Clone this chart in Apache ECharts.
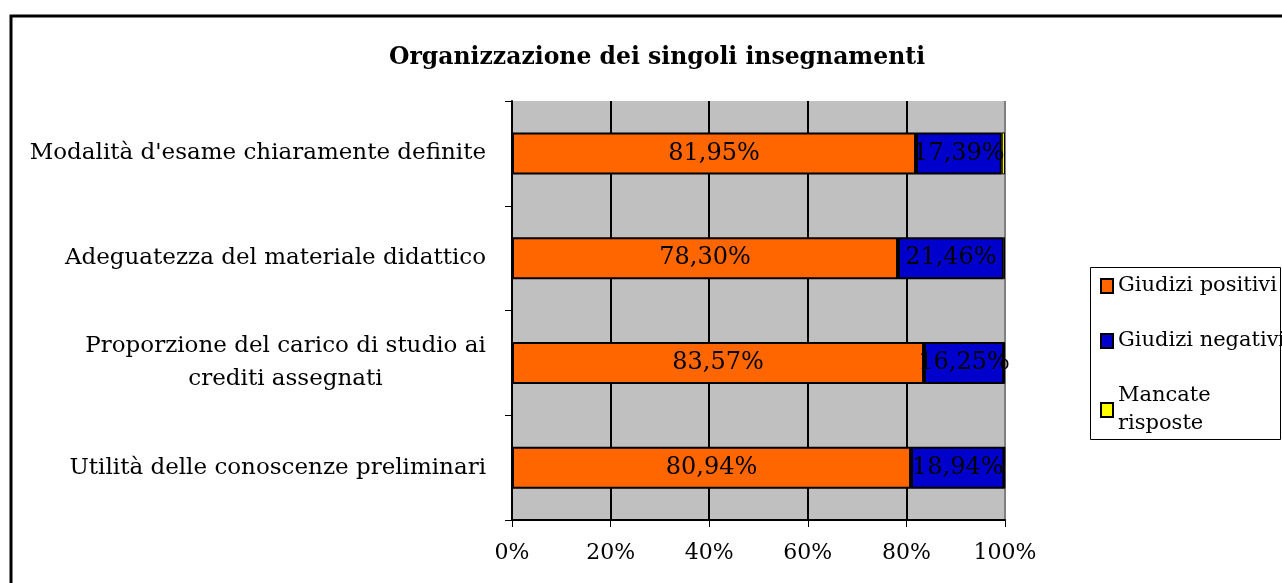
<!DOCTYPE html>
<html>
<head>
<meta charset="utf-8">
<script src="https://cdn.jsdelivr.net/npm/echarts@6/dist/echarts.min.js"></script>
<style>
  html, body { margin: 0; padding: 0; background: #fff; }
  #chart { width: 1282px; height: 583px; }
</style>
</head>
<body>
<div id="chart"></div>
<script>
// Categories, listed top to bottom
const categories = [
  "Modalità d'esame chiaramente definite",
  "Adeguatezza del materiale didattico",
  "Proporzione del carico di studio ai crediti assegnati",
  "Utilità delle conoscenze preliminari"
];
const positivi = [81.95, 78.30, 83.57, 80.94];
const negativi = [17.39, 21.46, 16.25, 18.94];
const mancate = [0.66, 0.24, 0.18, 0.12];
const xTicks = ["0%", "20%", "40%", "60%", "80%", "100%"];
const seriesNames = ['Giudizi positivi', 'Giudizi negativi', 'Mancate\nrisposte'];

const FONT = '"DejaVu Serif", "Liberation Serif", serif';
const CAT_SIZE = 23;

// The long category is split over two centred lines
const wrapFirst = 'Proporzione del carico di studio ai';
const wrapSecond = 'crediti assegnati';
const measureCtx = document.createElement('canvas').getContext('2d');
measureCtx.font = CAT_SIZE + 'px ' + FONT;
const wrapWidth = Math.ceil(measureCtx.measureText(wrapFirst).width);

function fmtPct(v) {
  return v.toFixed(2).replace('.', ',') + '%';
}

const labelStyle = {
  show: true,
  position: 'inside',
  color: '#000',
  fontFamily: FONT,
  fontSize: 24,
  formatter: p => fmtPct(p.value)
};

const chart = echarts.init(document.getElementById('chart'), null, { renderer: 'canvas' });

chart.setOption({
  animation: false,
  backgroundColor: '#fff',
  title: {
    text: 'Organizzazione dei singoli insegnamenti',
    left: 652,
    textAlign: 'center',
    top: 41,
    textStyle: { fontFamily: FONT, fontSize: 23.5, fontWeight: 'bold', color: '#000' }
  },
  legend: {
    orient: 'vertical',
    left: 1090,
    top: 267,
    padding: [5, 0, 2, 10],
    itemGap: 27,
    itemWidth: 12,
    itemHeight: 14,
    icon: 'rect',
    data: seriesNames,
    textStyle: { fontFamily: FONT, fontSize: 21, color: '#000', lineHeight: 28 },
    itemStyle: { borderColor: '#000', borderWidth: 2 }
  },
  grid: {
    left: 512, right: 277, top: 101, bottom: 63,
    show: true, backgroundColor: '#c0c0c0', borderWidth: 0
  },
  xAxis: {
    type: 'value',
    min: 0, max: 100, interval: 20,
    axisLine: { show: true, lineStyle: { color: '#000', width: 2 } },
    axisTick: { show: true, length: 7, lineStyle: { color: '#000', width: 1 } },
    axisLabel: {
      margin: 22,
      fontFamily: FONT, fontSize: 22, color: '#000',
      formatter: v => xTicks[Math.round(v / 20)]
    },
    splitLine: {
      show: true,
      lineStyle: { color: ['#000', '#000', '#000', '#000', '#000', '#808080'], width: 2 }
    }
  },
  yAxis: {
    type: 'category',
    inverse: true,
    data: categories,
    axisLine: { show: true, lineStyle: { color: '#000', width: 2 } },
    axisTick: { show: true, alignWithLabel: false, length: 7, lineStyle: { color: '#000', width: 1 } },
    axisLabel: {
      margin: 26,
      fontFamily: FONT, fontSize: CAT_SIZE, color: '#000',
      lineHeight: 33,
      formatter: v => {
        if (v.indexOf('Proporzione') === 0) {
          return '{c|' + wrapFirst + '}\n{c|' + wrapSecond + '}';
        }
        return v;
      },
      rich: {
        c: { width: wrapWidth, align: 'center', fontFamily: FONT, fontSize: CAT_SIZE, color: '#000', lineHeight: 33 }
      }
    }
  },
  series: [
    {
      name: seriesNames[0], type: 'bar', stack: 'tot', barWidth: 42,
      data: positivi,
      itemStyle: { color: '#ff6600', borderColor: '#000', borderWidth: 2 },
      label: labelStyle
    },
    {
      name: seriesNames[1], type: 'bar', stack: 'tot', barWidth: 42,
      data: negativi,
      itemStyle: { color: '#0000cc', borderColor: '#000', borderWidth: 2 },
      label: labelStyle
    },
    {
      name: seriesNames[2], type: 'bar', stack: 'tot', barWidth: 42,
      data: mancate,
      itemStyle: { color: '#ffff00', borderColor: '#000', borderWidth: 1 },
      label: { show: false }
    }
  ],
  graphic: [
    {
      // outer chart frame
      type: 'rect', z: 0,
      shape: { x: 11, y: 16, width: 1290, height: 600 },
      style: { fill: 'none', stroke: '#000', lineWidth: 3 },
      silent: true
    },
    {
      // legend frame
      type: 'rect', z: 0,
      shape: { x: 1090.5, y: 267.5, width: 190, height: 172 },
      style: { fill: '#fff', stroke: '#000', lineWidth: 1 },
      silent: true
    }
  ]
});
</script>
</body>
</html>
